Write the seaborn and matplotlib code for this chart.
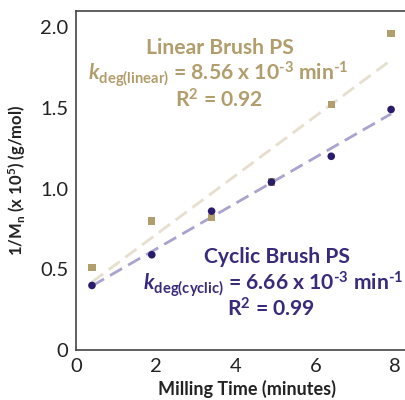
import matplotlib
matplotlib.use("Agg")
import matplotlib.pyplot as plt
import seaborn as sns
import numpy as np
import pandas as pd

time_min = [0.4, 1.9, 3.4, 4.9, 6.4, 7.9]
linear_inv_mn = [0.51, 0.80, 0.82, 1.04, 1.52, 1.96]
cyclic_inv_mn = [0.40, 0.59, 0.86, 1.04, 1.20, 1.49]
x_ticks = [0, 2, 4, 6, 8]
y_ticks = [0, 0.5, 1.0, 1.5, 2.0]
y_tick_labels = ["0", "0.5", "1.0", "1.5", "2.0"]

sns.set_theme(style="white")
plt.rcParams['font.family'] = ['Lato', 'DejaVu Sans']
plt.rcParams['mathtext.fontset'] = 'custom'
plt.rcParams['mathtext.rm'] = 'Lato:bold'
plt.rcParams['mathtext.bf'] = 'Lato:bold'
plt.rcParams['mathtext.it'] = 'Lato:italic:bold'
plt.rcParams['mathtext.bfit'] = 'Lato:italic:bold'

gold = "#b29d6c"
gold_line = "#e6dfcd"
navy = "#2b1c6b"
navy_text = "#3a2a7c"
lav_line = "#aaa2cf"

df = pd.DataFrame({"t": time_min, "lin": linear_inv_mn, "cyc": cyclic_inv_mn})

fig = plt.figure(figsize=(4.05, 4.0), dpi=100)
ax = fig.add_axes([76/405, 50/400, 341/405, 339/400])

sns.regplot(data=df, x="t", y="lin", ax=ax, scatter=False, ci=None,
            line_kws=dict(color=gold_line, lw=2, dashes=(5, 2.5)))
sns.regplot(data=df, x="t", y="cyc", ax=ax, scatter=False, ci=None,
            line_kws=dict(color=lav_line, lw=2, dashes=(5, 2.5)))
sns.scatterplot(data=df, x="t", y="lin", ax=ax, marker="s", s=28, color=gold,
                edgecolor="none", zorder=3)
sns.scatterplot(data=df, x="t", y="cyc", ax=ax, marker="o", s=30, color=navy,
                edgecolor="none", zorder=4)

ax.set_xlim(0, 8.55)
ax.set_ylim(0, 2.1)
ax.set_xticks(x_ticks)
ax.set_yticks(y_ticks)
ax.set_yticklabels(y_tick_labels)
ax.tick_params(axis="both", direction="inout", length=7, width=1.2,
               colors="#333333", labelsize=14.5, labelcolor="#222222", pad=2)
for s in ["left", "bottom", "top"]:
    ax.spines[s].set_color("#444444")
    ax.spines[s].set_linewidth(1.2)
ax.spines["right"].set_visible(False)

ax.set_xlabel("Milling Time (minutes)", fontsize=13, fontweight="bold",
              color="#222222", labelpad=4)
ax.set_ylabel(r"1/M$_{\mathbf{n}}$ (x 10$^{\mathbf{5}}$) (g/mol)", fontsize=12,
              fontweight="bold", color="#222222", labelpad=9)

fs = 15.2
# Linear annotations
ax.text(0.421, 0.872, "Linear Brush PS", transform=ax.transAxes, ha="center",
        va="baseline", fontsize=fs, fontweight="bold", color=gold)
ax.text(0.418, 0.796,
        r"$\mathbfit{k}_{\mathbf{deg(linear)}}$ = 8.56 x 10$^{\text{-3}}$ min$^{\text{-1}}$",
        transform=ax.transAxes, ha="center", va="baseline", fontsize=fs,
        fontweight="bold", color=gold)
ax.text(0.421, 0.715, r"R$^{\mathbf{2}}$ = 0.92", transform=ax.transAxes,
        ha="center", va="baseline", fontsize=fs, fontweight="bold", color=gold)

# Cyclic annotations
ax.text(0.589, 0.256, "Cyclic Brush PS", transform=ax.transAxes, ha="center",
        va="baseline", fontsize=fs, fontweight="bold", color=navy_text)
ax.text(0.577, 0.177,
        r"$\mathbfit{k}_{\mathbf{deg(cyclic)}}$ = 6.66 x 10$^{\text{-3}}$ min$^{\text{-1}}$",
        transform=ax.transAxes, ha="center", va="baseline", fontsize=fs,
        fontweight="bold", color=navy_text)
ax.text(0.571, 0.098, r"R$^{\mathbf{2}}$ = 0.99", transform=ax.transAxes,
        ha="center", va="baseline", fontsize=fs, fontweight="bold", color=navy_text)

fig.savefig("out.png", dpi=100)
